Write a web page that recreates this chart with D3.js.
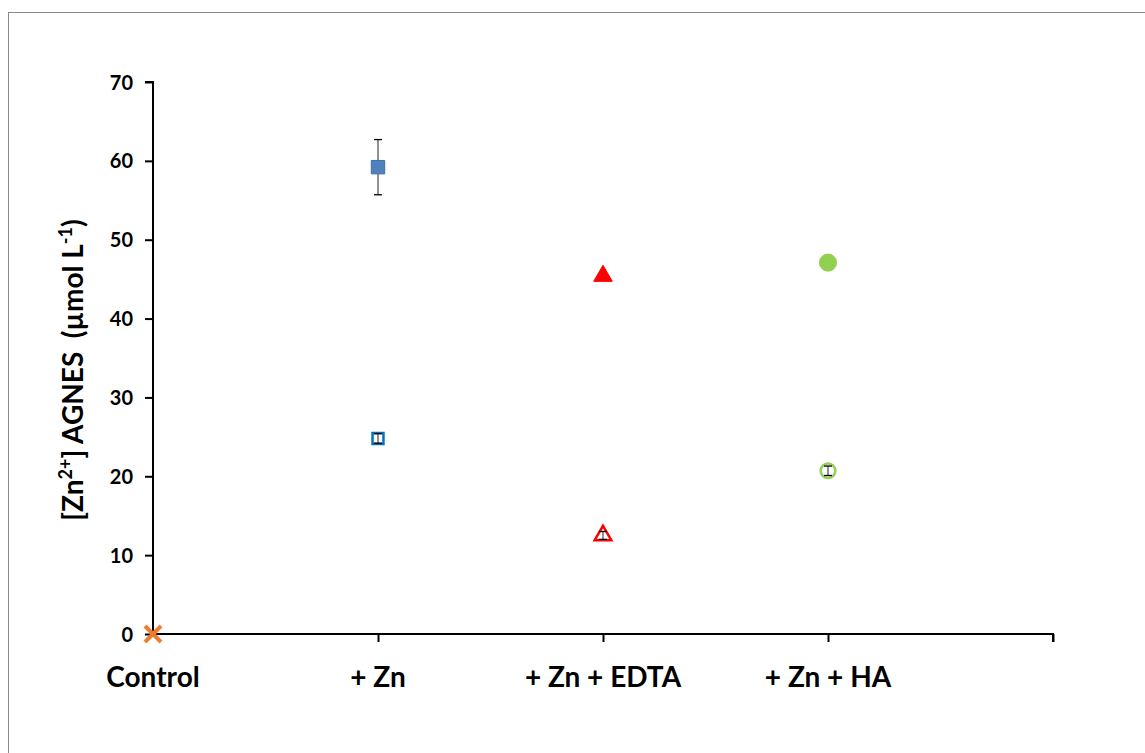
<!DOCTYPE html>
<meta charset="utf-8">
<style>
body { margin: 0; background: #fff; }
text { font-family: Lato, "Open Sans", sans-serif; font-weight: bold; fill: #000; }
</style>
<body>
<script src="https://d3js.org/d3.v7.min.js"></script>
<script>

var categories = ["Control", "+ Zn", "+ Zn + EDTA", "+ Zn + HA"];
var yTicks = [0, 10, 20, 30, 40, 50, 60, 70];

// [category index, value, error]
var controlPts = [[0, 0, 0]];
var znFilled = [[1, 59.2, 3.5]];
var znOpen = [[1, 24.8, 0.6]];
var edtaFilled = [[2, 45.4, 0.4]];
var edtaOpen = [[2, 12.5, 0.5]];
var haFilled = [[3, 47.1, 0.4]];
var haOpen = [[3, 20.7, 0.6]];

var W = 1145, H = 753;

var svg = d3.select("body").append("svg")
    .attr("width", W)
    .attr("height", H);

svg.append("rect")
    .attr("x", 8.5).attr("y", 12.5)
    .attr("width", W).attr("height", H)
    .attr("fill", "none").attr("stroke", "#898989").attr("stroke-width", 1);

var x = d3.scaleLinear().domain([0, 4]).range([153, 1053]);
var y = d3.scaleLinear().domain([0, 70]).range([634, 82]);

// axes
var yAxis = d3.axisLeft(y).tickValues(yTicks).tickSize(8).tickFormat(d3.format("d"));
var gy = svg.append("g").attr("transform", "translate(" + x(0) + ",0)").call(yAxis);
gy.select(".domain").attr("stroke-width", 2).attr("d", "M-8," + y(70) + "H0V" + y(0));
gy.selectAll(".tick line").attr("stroke-width", 2);
gy.selectAll(".tick text").attr("font-size", 20).attr("x", -20).attr("dy", "0.35em");

var xAxis = d3.axisBottom(x).tickValues([1, 2, 3, 4]).tickSize(8).tickFormat("");
var gx = svg.append("g").attr("transform", "translate(0," + y(0) + ")").call(xAxis);
gx.select(".domain").attr("stroke-width", 2).attr("d", "M" + x(0) + ",0H" + x(4) + "V8");
gx.selectAll(".tick line").attr("stroke-width", 2);

svg.selectAll(".cat").data(categories).enter().append("text")
    .attr("class", "cat")
    .attr("x", function(d, i) { return x(i); })
    .attr("y", 687)
    .attr("text-anchor", "middle")
    .attr("font-size", 28)
    .text(function(d) { return d; });

var title = svg.append("text")
    .attr("transform", "translate(83,370) rotate(-90)")
    .attr("text-anchor", "middle")
    .attr("font-size", 28);
title.append("tspan").text("[Zn");
title.append("tspan").attr("font-size", 18).attr("dy", -11).text("2+");
title.append("tspan").attr("dy", 11).text("] AGNES \u00a0(\u00b5mol L");
title.append("tspan").attr("font-size", 18).attr("dy", -11).text("-1");
title.append("tspan").attr("dy", 11).text(")");

function errorBars(data) {
  data.forEach(function(d) {
    var g = svg.append("g").attr("stroke", "#000").attr("stroke-width", 1.3);
    var cx = x(d[0]);
    g.append("line").attr("x1", cx).attr("x2", cx).attr("y1", y(d[1] + d[2])).attr("y2", y(d[1] - d[2])).attr("stroke", "#555");
    g.append("line").attr("x1", cx - 4).attr("x2", cx + 4).attr("y1", y(d[1] + d[2])).attr("y2", y(d[1] + d[2]));
    g.append("line").attr("x1", cx - 4).attr("x2", cx + 4).attr("y1", y(d[1] - d[2])).attr("y2", y(d[1] - d[2]));
  });
}

function markers(data, type, size, fill, stroke, sw) {
  svg.selectAll(null).data(data).enter().append("path")
    .attr("transform", function(d) { return "translate(" + x(d[0]) + "," + y(d[1]) + ")"; })
    .attr("d", d3.symbol().type(type).size(size))
    .attr("fill", fill)
    .attr("stroke", stroke)
    .attr("stroke-width", sw);
}

errorBars(znFilled);
markers(znFilled, d3.symbolSquare, 180, "#4f81bd", "#3a6fb0", 1);
markers(edtaFilled, d3.symbolTriangle, 150, "#ff0000", "#ff0000", 1);
markers(haFilled, d3.symbolCircle, 230, "#92d050", "#92d050", 1);

markers(znOpen, d3.symbolSquare, 120, "#fff", "#0070c0", 2.5);
markers(edtaOpen, d3.symbolTriangle, 120, "#fff", "#ff0000", 2.5);
markers(haOpen, d3.symbolCircle, 170, "#fff", "#92d050", 2.5);
errorBars(znOpen);
errorBars(edtaOpen);
errorBars(haOpen);

markers(controlPts, d3.symbolX, 170, "none", "#ed7d31", 4);

</script>
</body>
